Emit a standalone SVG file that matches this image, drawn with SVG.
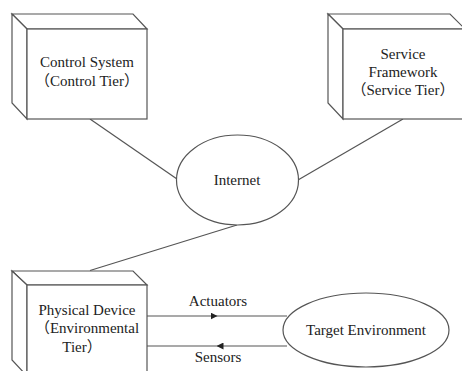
<svg xmlns="http://www.w3.org/2000/svg" width="462" height="371" viewBox="0 0 462 371">
<style>
.box{fill:#fff;stroke:#555;stroke-width:1.2}
.ln{fill:none;stroke:#555;stroke-width:1.2}
.t{font-family:"Liberation Serif","Noto Sans CJK SC",serif;font-size:15px;fill:#222;text-anchor:middle}
</style>
<defs>
<marker id="ah" viewBox="0 0 10 10" refX="5" refY="5" markerWidth="7" markerHeight="7" markerUnits="userSpaceOnUse" orient="auto">
<path d="M0,0 L10,5 L0,10 z" fill="#222"/>
</marker>
</defs>
<rect width="462" height="371" fill="#fff"/>
<g id="connectors">
<line class="ln" x1="90" y1="119" x2="177" y2="179"/>
<line class="ln" x1="403" y1="119" x2="298" y2="180"/>
<line class="ln" x1="237" y1="225" x2="90" y2="270.5"/>
<path class="ln" d="M147,316 L214,316 L287,316" marker-mid="url(#ah)"/>
<path class="ln" d="M287,346 L220,346 L147,346" marker-mid="url(#ah)"/>
<text class="t" x="218" y="306">Actuators</text>
<text class="t" x="218" y="362">Sensors</text>
</g>
<g id="control">
<path class="box" d="M12,14 L133,14 L147,29 L27,29 Z"/>
<path class="box" d="M12,14 L27,29 L27,119 L12,103 Z"/>
<rect class="box" x="27" y="29" width="120" height="90"/>
<text class="t" x="87" y="67">Control System</text>
<text class="t" x="87" y="86">（Control Tier）</text>
</g>
<g id="service">
<path class="box" d="M328,14 L450,14 L465,29 L343,29 Z"/>
<path class="box" d="M328,14 L343,29 L343,119 L328,103 Z"/>
<rect class="box" x="343" y="29" width="122" height="90"/>
<text class="t" x="403" y="59">Service</text>
<text class="t" x="403" y="77">Framework</text>
<text class="t" x="403" y="95">（Service Tier）</text>
</g>
<g id="internet">
<ellipse class="box" cx="237.5" cy="180" rx="61" ry="45"/>
<text class="t" x="237" y="185">Internet</text>
</g>
<g id="physical">
<path class="box" d="M12,271 L133,271 L147,285 L27,285 Z"/>
<path class="box" d="M12,271 L27,285 L27,376 L12,360 Z"/>
<rect class="box" x="27" y="285" width="120" height="90"/>
<text class="t" x="87" y="315">Physical Device</text>
<text class="t" x="87" y="333">（Environmental</text>
<text class="t" x="82" y="352">Tier）</text>
</g>
<g id="target">
<ellipse class="box" cx="366" cy="330" rx="83" ry="37"/>
<text class="t" x="366" y="335">Target Environment</text>
</g>
</svg>
